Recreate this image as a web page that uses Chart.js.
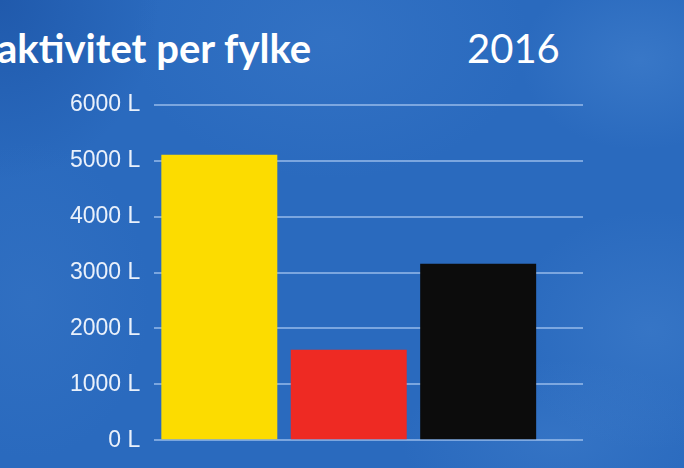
<!DOCTYPE html>
<html>
<head>
<meta charset="utf-8">
<script src="https://cdn.jsdelivr.net/npm/chart.js@4/dist/chart.umd.min.js"></script>
<style>
  html, body { margin: 0; padding: 0; }
  body {
    width: 684px; height: 468px; overflow: hidden; position: relative;
    background:
      radial-gradient(ellipse 120px 90px at 640px 60px, rgba(90,150,220,0.30), rgba(90,150,220,0) 100%),
      radial-gradient(ellipse 140px 120px at 650px 330px, rgba(90,150,220,0.25), rgba(90,150,220,0) 100%),
      radial-gradient(ellipse 160px 80px at 560px 440px, rgba(90,150,220,0.22), rgba(90,150,220,0) 100%),
      radial-gradient(ellipse 200px 140px at 330px 40px, rgba(80,140,215,0.22), rgba(80,140,215,0) 100%),
      radial-gradient(ellipse 160px 180px at 0px 0px, rgba(20,70,150,0.45), rgba(20,70,150,0) 100%),
      radial-gradient(ellipse 120px 160px at 30px 300px, rgba(70,130,205,0.22), rgba(70,130,205,0) 100%),
      #2a6abe;
  }
  .title {
    position: absolute; top: 28px; left: -3px; margin: 0;
    font-family: Lato, sans-serif; font-weight: 700; font-size: 40px; line-height: 40px;
    color: #ffffff; white-space: nowrap;
  }
  .year {
    position: absolute; top: 28px; left: 467px; margin: 0;
    font-family: Lato, sans-serif; font-weight: 400; font-size: 40px; line-height: 40px;
    color: #ffffff; white-space: nowrap;
  }
  #wrap { position: absolute; left: 0; top: 0; width: 684px; height: 468px; }
</style>
</head>
<body>
<div class="title">aktivitet per fylke</div>
<div class="year">2016</div>
<div id="wrap"><canvas id="c" width="684" height="468"></canvas></div>
<script>
const categories = ['gul', 'rød', 'svart'];
const values = [5110, 1620, 3160];
const barColors = ['#fcdc00', '#ee2a23', '#0c0c0c'];
const yTicks = [0, 1000, 2000, 3000, 4000, 5000, 6000];
const unit = ' L';

const points = values.map((v, i) => ({ x: i, y: v }));

new Chart(document.getElementById('c'), {
  type: 'bar',
  data: {
    datasets: [{
      label: 'aktivitet',
      data: points,
      backgroundColor: barColors,
      borderWidth: 0,
      barPercentage: 0.896,
      categoryPercentage: 1.0
    }]
  },
  options: {
    responsive: false,
    animation: false,
    devicePixelRatio: 1,
    layout: { padding: { left: 56, right: 101, top: 105, bottom: 25 } },
    plugins: {
      legend: { display: false },
      tooltip: { enabled: false },
      title: { display: false }
    },
    scales: {
      x: {
        type: 'linear',
        offset: false,
        min: -0.502,
        max: 2.81,
        display: false,
        afterBuildTicks: (axis) => { axis.ticks = categories.map((c, i) => ({ value: i })); },
        grid: { display: false }
      },
      y: {
        min: 0,
        max: 6000,
        afterBuildTicks: (axis) => { axis.ticks = yTicks.map(v => ({ value: v })); },
        border: { display: false },
        grid: {
          color: 'rgba(190,215,250,0.55)',
          lineWidth: 2,
          drawTicks: false
        },
        ticks: {
          padding: 14,
          color: '#eaf1fb',
          font: { family: '"Liberation Sans", Arial, sans-serif', size: 23 },
          callback: (v) => v + unit
        }
      }
    }
  }
});
</script>
</body>
</html>
